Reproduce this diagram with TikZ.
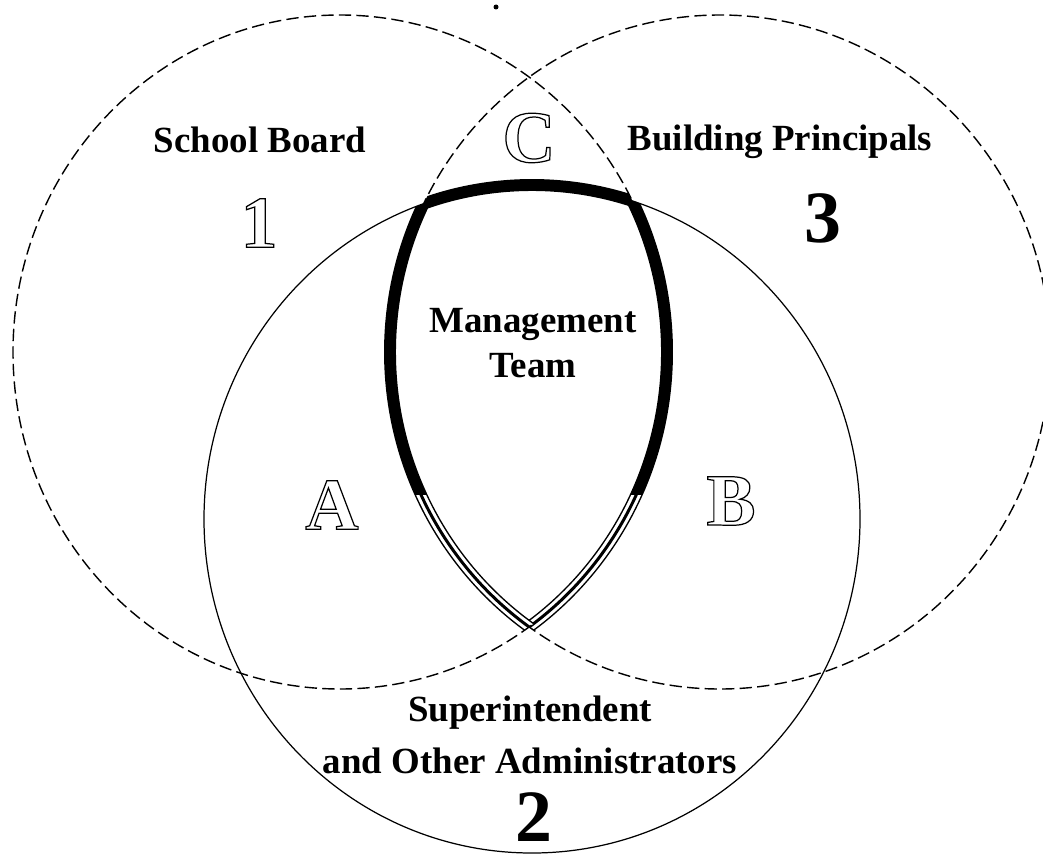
\documentclass[tikz,border=0pt]{standalone}
\usepackage{fontspec}
\setmainfont{Liberation Serif}
\usetikzlibrary{positioning}
\newcommand{\outlined}[1]{\special{pdf:literal direct 1 Tr 0.7 w}#1\special{pdf:literal direct 0 Tr}}

\begin{document}
\begin{tikzpicture}[x=0.02cm, y=-0.02cm,
    ring/.style={line width=0.8pt, dash pattern=on 7pt off 3pt},
    plainring/.style={line width=0.7pt},
    core/.style={line width=6.8pt},
    grouptext/.style={font=\fontsize{21}{25.5}\selectfont\bfseries, inner sep=0pt, align=center},
    bignum/.style={font=\fontsize{42}{42}\selectfont\bfseries, inner sep=0pt}
]
    \useasboundingbox (0,0) rectangle (1043,855);
    \coordinate (board) at (340,352);
    \coordinate (admin) at (532,519);
    \coordinate (princ) at (720,352);

    % thick outline round the part all three share
    \begin{scope}
        \clip (board) ellipse [x radius=327, y radius=337];
        \clip (princ) ellipse [x radius=330, y radius=337];
        \draw[core] (admin) ellipse [x radius=328, y radius=334];
    \end{scope}
    \begin{scope}
        \clip (admin) ellipse [x radius=328, y radius=334];
        \clip (princ) ellipse [x radius=330, y radius=337];
        \draw[core] (board) ellipse [x radius=327, y radius=337];
        \clip (0,495) rectangle (1043,855);
        \draw[white, line width=5.1pt] (board) ellipse [x radius=327, y radius=337];
        \draw[line width=1.7pt] (board) ellipse [x radius=327, y radius=337];
    \end{scope}
    \begin{scope}
        \clip (admin) ellipse [x radius=328, y radius=334];
        \clip (board) ellipse [x radius=327, y radius=337];
        \draw[core] (princ) ellipse [x radius=330, y radius=337];
        \clip (0,495) rectangle (1043,855);
        \draw[white, line width=5.1pt] (princ) ellipse [x radius=330, y radius=337];
        \draw[line width=1.7pt] (princ) ellipse [x radius=330, y radius=337];
    \end{scope}

    % the three circles
    \draw[ring] (board) ellipse [x radius=327, y radius=337];
    \draw[ring] (princ) ellipse [x radius=330, y radius=337];
    \draw[plainring] (admin) ellipse [x radius=328, y radius=334];
    \fill (496,7) circle [radius=2.5];

    \node[grouptext, anchor=base] (boardname) at (260,152) {School Board};
    \node[grouptext, anchor=base] (princname) at (780,150) {Building Principals};
    \node[grouptext] (teamname) at (533,343) {Management\\Team};
    \node[grouptext, font=\fontsize{21}{30}\selectfont\bfseries] (adminname) at (530,735) {Superintendent\\and Other Administrators};

    \node[bignum] (one) at (259,223) {\outlined{1}};
    \node[bignum] (three) at (823,218) {3};
    \node[bignum] (two) at (534,817) {2};
    \node[bignum] (zoneC) at (529,138) {\outlined{C}};
    \node[bignum] (zoneA) at (332,505) {\outlined{A}};
    \node[bignum] (zoneB) at (731,501) {\outlined{B}};
\end{tikzpicture}
\end{document}
